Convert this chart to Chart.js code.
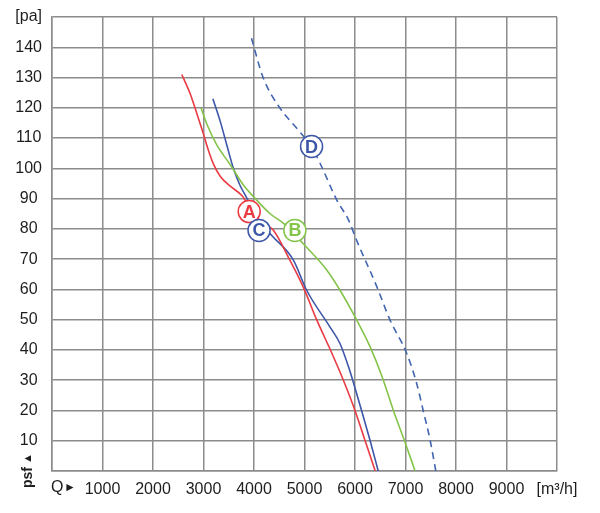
<!DOCTYPE html>
<html>
<head>
<meta charset="utf-8">
<script src="https://cdn.jsdelivr.net/npm/chart.js@4"></script>
<style>
  html, body { margin: 0; padding: 0; background: #fff; }
  #wrap { width: 600px; height: 513px; }
</style>
</head>
<body>
<div id="wrap"><canvas id="fan-chart" width="600" height="513"></canvas></div>
<script>
// airflow Q [m3/h] and pressure psf [pa]
const curveA_q = [2570, 2740, 2870, 3000, 3100, 3200, 3330, 3530, 3760, 3920, 4100, 4380, 4710, 4970, 5240, 5540, 5770, 6000, 6200, 6400];
const curveA_p = [131, 124.5, 118, 111.3, 105.8, 101.3, 97.4, 94.1, 91, 87, 83, 79.6, 69.7, 61, 50, 39, 30, 20, 10, 0];

const curveB_q = [2950, 3070, 3260, 3530, 3790, 4020, 4320, 4610, 4980, 5440, 5700, 6030, 6300, 6540, 6760, 6980, 7190];
const curveB_p = [120, 114.5, 107.8, 101.2, 94.5, 90.1, 85, 81.5, 75, 66.4, 59.8, 50, 41, 31, 20, 10, 0];

const curveC_q = [3185, 3330, 3460, 3590, 3720, 3860, 4100, 4370, 4780, 5040, 5500, 5700, 5880, 5990, 6130, 6300, 6460];
const curveC_p = [123, 115.6, 107.8, 100.1, 94.5, 90.1, 82.5, 77.5, 69.7, 59.8, 47.7, 42.2, 34, 28, 20, 10, 0];

const curveD_q = [3950, 4180, 4510, 4880, 5140, 5310, 5640, 5870, 6030, 6430, 6690, 7020, 7220, 7350, 7490, 7600];
const curveD_p = [143, 130, 120, 112.6, 107, 101.6, 89.5, 83, 76.3, 61, 50, 39, 29, 20, 10, 0];

// circled curve names
const markerNames = ['A', 'B', 'C', 'D'];
const markerQ = [3905, 4810, 4100, 5140];
const markerP = [85.7, 79.5, 79.5, 107.2];

const xTicks = [0, 1000, 2000, 3000, 4000, 5000, 6000, 7000, 8000, 9000, 10000];
const yTicks = [0, 10, 20, 30, 40, 50, 60, 70, 80, 90, 100, 110, 120, 130, 140, 150];

const RED = '#ea3a42';
const GREEN = '#84c44a';
const BLUE = '#3d56a8';
const BLUE_D = '#4265b0';
const GRID = '#8c8c8c';
const TEXT = '#1e1e1e';
const FONT = "'Liberation Sans', Arial, sans-serif";

function toPoints(qs, ps) {
    return qs.map((q, i) => ({ x: q, y: ps[i] }));
}

const markerColors = [RED, GREEN, BLUE, BLUE];

// draws the letters in the circles and the odd axis captions
const captionPlugin = {
    id: 'captions',
    afterDatasetsDraw(chart) {
        const ctx = chart.ctx;
        const xs = chart.scales.x;
        const ys = chart.scales.y;
        ctx.save();
        ctx.textAlign = 'center';
        ctx.textBaseline = 'middle';
        ctx.font = 'bold 18px ' + FONT;
        markerNames.forEach((name, i) => {
            ctx.fillStyle = markerColors[i];
            ctx.fillText(name, xs.getPixelForValue(markerQ[i]), ys.getPixelForValue(markerP[i]) + 1);
        });

        // Q arrow under the x axis
        ctx.fillStyle = TEXT;
        ctx.textAlign = 'left';
        ctx.font = '16px ' + FONT;
        ctx.fillText('Q', xs.left - 1, ys.bottom + 17);
        ctx.font = '12px ' + FONT;
        ctx.fillText('\u25BA', xs.left + 12, ys.bottom + 17);

        // psf arrow along the y axis
        ctx.translate(xs.left - 24, ys.bottom + 17);
        ctx.rotate(-Math.PI / 2);
        ctx.font = 'bold 14px ' + FONT;
        ctx.fillText('psf', 0, 0);
        ctx.font = '11px ' + FONT;
        ctx.fillText('\u25B2', 24, 0);
        ctx.restore();
    }
};

function initChart() {
    const ctx = document.getElementById('fan-chart').getContext('2d');
    const lineStyle = {
        showLine: true,
        pointRadius: 0,
        borderWidth: 1.6,
        cubicInterpolationMode: 'monotone',
        order: 2
    };
    new Chart(ctx, {
        type: 'scatter',
        data: {
            datasets: [{
                label: 'markers',
                data: toPoints(markerQ, markerP),
                showLine: false,
                pointRadius: 11,
                pointBorderWidth: 1.5,
                pointBackgroundColor: '#fff',
                pointBorderColor: markerColors,
                order: 0
            }, {
                ...lineStyle,
                label: 'A',
                data: toPoints(curveA_q, curveA_p),
                borderColor: RED
            }, {
                ...lineStyle,
                label: 'B',
                data: toPoints(curveB_q, curveB_p),
                borderColor: GREEN
            }, {
                ...lineStyle,
                label: 'C',
                data: toPoints(curveC_q, curveC_p),
                borderColor: BLUE
            }, {
                ...lineStyle,
                label: 'D',
                data: toPoints(curveD_q, curveD_p),
                borderColor: BLUE_D,
                borderDash: [7, 5]
            }]
        },
        options: {
            responsive: false,
            animation: false,
            layout: {
                padding: { top: 17, right: 43, left: 0, bottom: 0 }
            },
            plugins: {
                legend: { display: false },
                tooltip: { enabled: false }
            },
            scales: {
                x: {
                    type: 'linear',
                    min: 0,
                    max: 10000,
                    afterBuildTicks(scale) {
                        scale.ticks = xTicks.map(v => ({ value: v }));
                    },
                    afterFit(scale) {
                        scale.height = 42;
                    },
                    grid: {
                        color: GRID,
                        lineWidth: 1.5,
                        drawTicks: false
                    },
                    border: { color: GRID, width: 1.5 },
                    ticks: {
                        color: TEXT,
                        padding: 9,
                        maxRotation: 0,
                        autoSkip: false,
                        font: { family: FONT, size: 16 },
                        callback: function(v) {
                            if (v === 0) return '';
                            if (v === 10000) return '[m\u00B3/h]';
                            return String(v);
                        }
                    }
                },
                y: {
                    type: 'linear',
                    min: 0,
                    max: 150,
                    afterBuildTicks(scale) {
                        scale.ticks = yTicks.map(v => ({ value: v }));
                    },
                    afterFit(scale) {
                        scale.width = 52;
                        // "[pa]" may stick out above the plot, like in the original
                        scale.paddingTop = 0;
                        scale.paddingBottom = 0;
                    },
                    grid: {
                        color: GRID,
                        lineWidth: 1.5,
                        drawTicks: false
                    },
                    border: { color: GRID, width: 1.5 },
                    ticks: {
                        color: TEXT,
                        padding: 10,
                        crossAlign: 'center',
                        autoSkip: false,
                        font: { family: FONT, size: 16 },
                        callback: function(v) {
                            if (v === 0) return '';
                            if (v === 150) return '[pa]';
                            return String(v);
                        }
                    }
                }
            }
        },
        plugins: [captionPlugin]
    });
}

document.addEventListener('DOMContentLoaded', initChart);
</script>
</body>
</html>
